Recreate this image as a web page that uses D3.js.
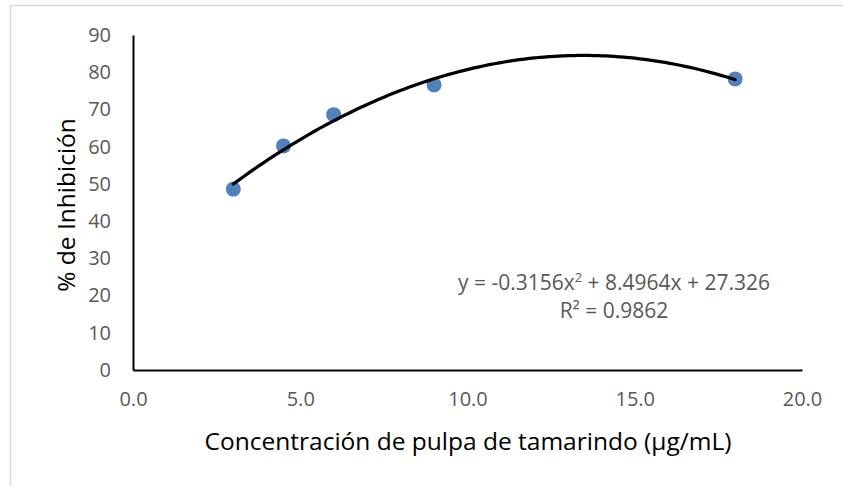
<!DOCTYPE html>
<html>
<head>
<meta charset="utf-8">
<script src="https://cdn.jsdelivr.net/npm/d3@7"></script>
<style>
  html, body { margin: 0; padding: 0; background: #fff; }
  svg { display: block; font-family: "Open Sans", "Noto Sans", sans-serif; }
</style>
</head>
<body>
<svg id="chart" width="843" height="486"></svg>
<script>
// Concentration of tamarind pulp (µg/mL) vs % inhibition
const concentrations = [3, 4.5, 6, 9, 18];
const inhibition = [48.6, 60.2, 68.6, 76.6, 78.2];

// Polynomial (order 2) trendline coefficients: y = a x^2 + b x + c
const trendCoefs = [-0.3156, 8.4964, 27.326];
const rSquared = 0.9862;

const xTicks = [0, 5, 10, 15, 20];
const yTicks = [0, 10, 20, 30, 40, 50, 60, 70, 80, 90];

const xTitle = "Concentración de pulpa de tamarindo (µg/mL)";
const yTitle = "% de Inhibición";

const svg = d3.select("#chart");
const W = 843, H = 486;

// chart-area frame
svg.append("rect")
  .attr("x", 10.5).attr("y", 5.5)
  .attr("width", W + 10).attr("height", H + 10)
  .attr("fill", "#fff").attr("stroke", "#d9d9d9").attr("stroke-width", 1.5);

const plot = { left: 133, right: 802, top: 35, bottom: 370 };

const x = d3.scaleLinear().domain([0, 20]).range([plot.left, plot.right]);
const y = d3.scaleLinear().domain([0, 90]).range([plot.bottom, plot.top]);

// axes
const xAxis = d3.axisBottom(x).tickValues(xTicks).tickSize(0).tickPadding(22)
  .tickFormat(d3.format(".1f"));
const yAxis = d3.axisLeft(y).tickValues(yTicks).tickSize(0).tickPadding(22)
  .tickFormat(d3.format("d"));

const gx = svg.append("g").attr("transform", `translate(0,${plot.bottom})`).call(xAxis);
const gy = svg.append("g").attr("transform", `translate(${plot.left},0)`).call(yAxis);

[gx, gy].forEach(g => {
  g.select(".domain").attr("stroke", "#000").attr("stroke-width", 2);
  g.selectAll(".tick text").attr("fill", "#595959").attr("font-size", 20)
    .attr("font-family", "'Open Sans', sans-serif");
});

// trendline from the fitted polynomial over the data range
const poly = v => trendCoefs[0] * v * v + trendCoefs[1] * v + trendCoefs[2];
const xs = d3.range(0, 101).map(i => concentrations[0] + (concentrations[concentrations.length - 1] - concentrations[0]) * i / 100);

// data points
svg.append("g").selectAll("circle")
  .data(concentrations.map((c, i) => [c, inhibition[i]]))
  .join("circle")
  .attr("cx", d => x(d[0]))
  .attr("cy", d => y(d[1]))
  .attr("r", 7.5)
  .attr("fill", "#4f81bd");

svg.append("path")
  .datum(xs)
  .attr("fill", "none")
  .attr("stroke", "#000")
  .attr("stroke-width", 3.25)
  .attr("stroke-linecap", "round")
  .attr("d", d3.line().x(d => x(d)).y(d => y(poly(d))).curve(d3.curveMonotoneX));

// trendline equation label
const fmt = v => String(Math.abs(v));
const eq = svg.append("text")
  .attr("x", 614).attr("y", 290)
  .attr("text-anchor", "middle")
  .attr("fill", "#595959").attr("font-size", 21);
eq.append("tspan").text(`y = -${fmt(trendCoefs[0])}x`);
eq.append("tspan").attr("dy", -8).attr("font-size", 13).text("2");
eq.append("tspan").attr("dy", 8).text(` + ${trendCoefs[1]}x + ${trendCoefs[2]}`);

svg.append("text")
  .attr("x", 614).attr("y", 318)
  .attr("text-anchor", "middle")
  .attr("fill", "#595959").attr("font-size", 21)
  .text(`R² = ${rSquared}`);

// axis titles
svg.append("text")
  .attr("x", 468).attr("y", 450)
  .attr("text-anchor", "middle")
  .attr("fill", "#000").attr("font-size", 24.5)
  .text(xTitle);

svg.append("text")
  .attr("transform", "translate(75,205) rotate(-90)")
  .attr("text-anchor", "middle")
  .attr("fill", "#000").attr("font-size", 24.5)
  .text(yTitle);
</script>
</body>
</html>
